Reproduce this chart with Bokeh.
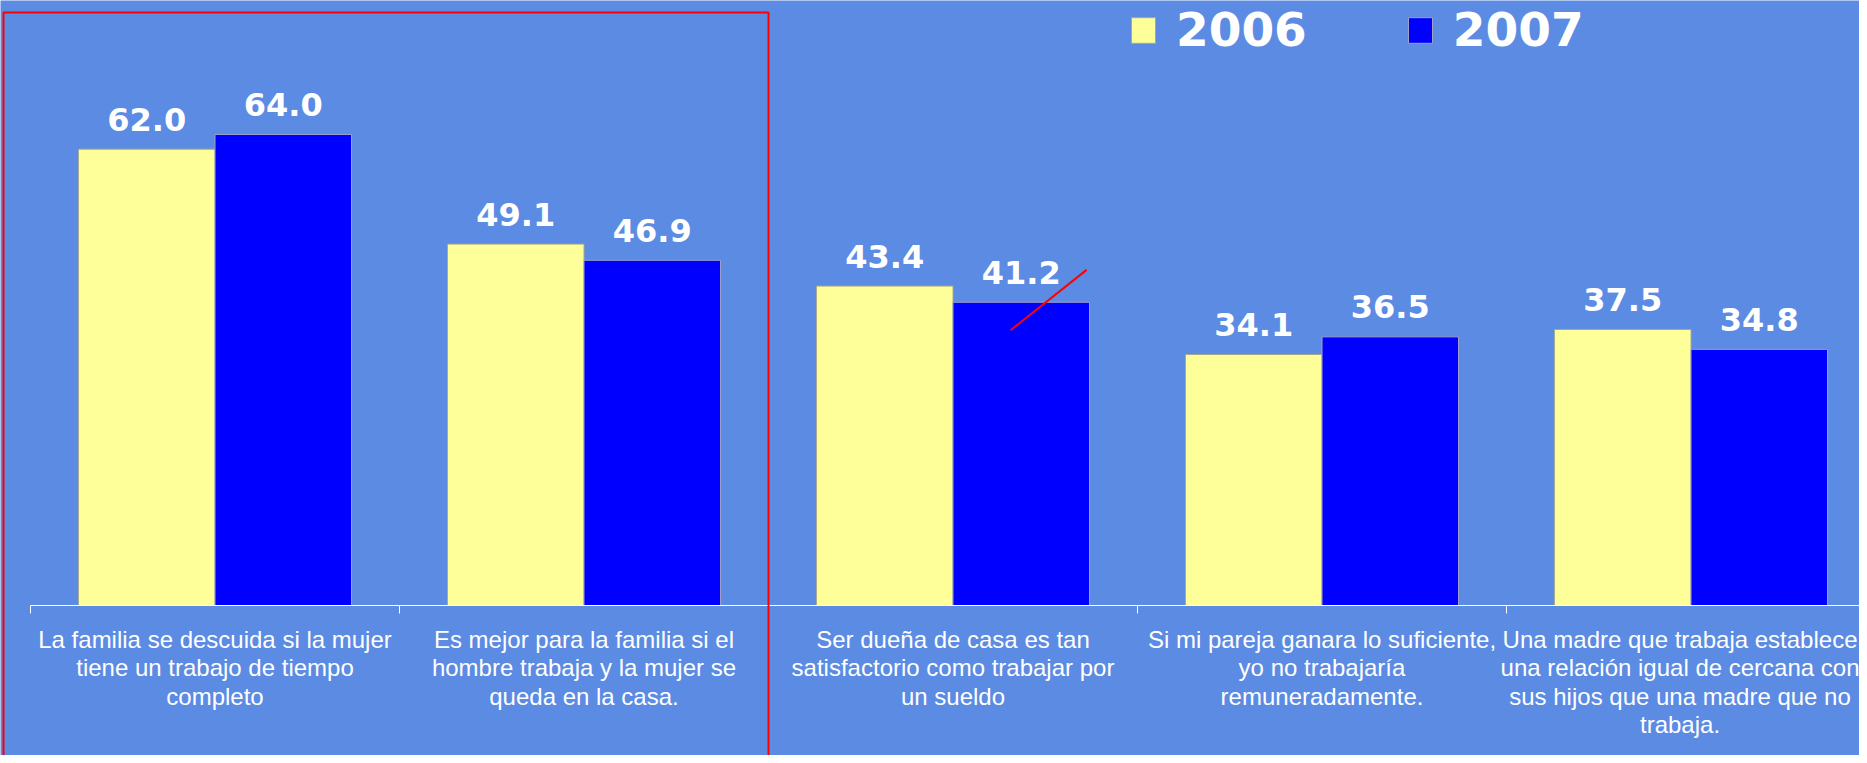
import numpy as np
from bokeh.plotting import figure
from bokeh.models import (Range1d, FixedTicker, BoxAnnotation, Legend, LegendItem,
                          ColumnDataSource)
from bokeh.transform import dodge
from bokeh.core.properties import value
from bokeh.embed import file_html
from bokeh.resources import INLINE

# ---------------- data ----------------
categories = [
    "La familia se descuida si la mujer\ntiene un trabajo de tiempo\ncompleto",
    "Es mejor para la familia si el\nhombre trabaja y la mujer se\nqueda en la casa.",
    "Ser dueña de casa es tan\nsatisfactorio como trabajar por\nun sueldo",
    "Si mi pareja ganara lo suficiente,\nyo no trabajaría\nremuneradamente.",
    "Una madre que trabaja establece\nuna relación igual de cercana con\nsus hijos que una madre que no\ntrabaja.",
]
series_names = ["2006", "2007"]
values_2006 = [62.0, 49.1, 43.4, 34.1, 37.5]
values_2007 = [64.0, 46.9, 41.2, 36.5, 34.8]

# stray red pen stroke in the original (data coordinates)
stroke_x = [2.656, 2.862]
stroke_y = [37.4, 45.6]

# ---------------- styling ----------------
BG = "#5B8BE3"
YELLOW = "#FFFF99"
BLUE = "#0000FF"
W, H = 1859, 755
CAT_PX = 369.0
AXIS_Y = 605          # canvas pixel row of the category axis
PX_PER_UNIT = 7.36
BAR_W = 0.37

n = len(categories)
centers = [float(c) for c in np.arange(n) + 0.5]
bounds = [float(b) for b in np.arange(n + 1)]

x_start = -30.0 / CAT_PX
xr = Range1d(x_start, x_start + W / CAT_PX)
yr = Range1d(-(H - AXIS_Y) / PX_PER_UNIT, AXIS_Y / PX_PER_UNIT)

p = figure(width=W, height=H, x_range=xr, y_range=yr, output_backend="svg",
           toolbar_location=None, min_border=0,
           background_fill_color=BG, border_fill_color=BG, outline_line_color=None,
           y_axis_location=None)
p.xgrid.visible = False
p.ygrid.visible = False

src = ColumnDataSource(dict(
    x=centers, v06=values_2006, v07=values_2007,
    l06=[f"{v:.1f}" for v in values_2006],
    l07=[f"{v:.1f}" for v in values_2007],
))

r06 = p.vbar(x=dodge("x", -BAR_W / 2, range=xr), top="v06", width=BAR_W, bottom=0,
             source=src, fill_color=YELLOW, line_color="#A8A890", line_width=1)
r07 = p.vbar(x=dodge("x", BAR_W / 2, range=xr), top="v07", width=BAR_W, bottom=0,
             source=src, fill_color=BLUE, line_color="#A0A0C8", line_width=1)

for xoff, col in ((-BAR_W / 2, "06"), (BAR_W / 2, "07")):
    p.text(x=dodge("x", xoff, range=xr), y="v" + col, text="l" + col, source=src,
           text_font=value("DejaVu Sans"), text_font_style="bold",
           text_font_size="32px", text_color="white", text_align="center",
           text_baseline="alphabetic", y_offset=-30)

# x axis fixed at y=0: labels at category centres, minor ticks at boundaries
ax = p.xaxis[0]
ax.fixed_location = 0
ax.ticker = FixedTicker(ticks=centers, minor_ticks=bounds)
ax.major_label_overrides = {c: lab for c, lab in zip(centers, categories)}
ax.major_tick_in = 0
ax.major_tick_out = 0
ax.minor_tick_in = 0
ax.minor_tick_out = 8
ax.minor_tick_line_color = "white"
ax.axis_line_color = "white"
ax.axis_line_width = 1
ax.bounds = (0, n)
ax.major_label_standoff = 12
ax.major_label_text_color = "white"
ax.major_label_text_font = "Liberation Sans"
ax.major_label_text_font_size = "24px"
ax.major_label_text_line_height = 1.06

# legend
legend = Legend(items=[LegendItem(label=series_names[0], renderers=[r06]),
                       LegendItem(label=series_names[1], renderers=[r07])],
                orientation="horizontal", location=(1128, 698),
                background_fill_alpha=0, border_line_alpha=0,
                label_text_font="DejaVu Sans", label_text_font_style="bold",
                label_text_font_size="47px", label_text_color="white",
                glyph_width=30, glyph_height=32, label_standoff=18, spacing=98,
                padding=0, margin=0)
p.add_layout(legend)

# red highlight box and pen stroke
box = BoxAnnotation(left=3, left_units="canvas", right=2.0, right_units="data",
                    top=(AXIS_Y - 12) / PX_PER_UNIT, top_units="data",
                    bottom=yr.start - 10, bottom_units="data",
                    fill_alpha=0, line_color="#FF0000", line_alpha=1.0, line_width=2)
p.add_layout(box)
p.line(x=stroke_x, y=stroke_y, line_color="#FF0000", line_width=2)

with open("out.html", "w") as f:
    f.write(file_html(p, INLINE))
